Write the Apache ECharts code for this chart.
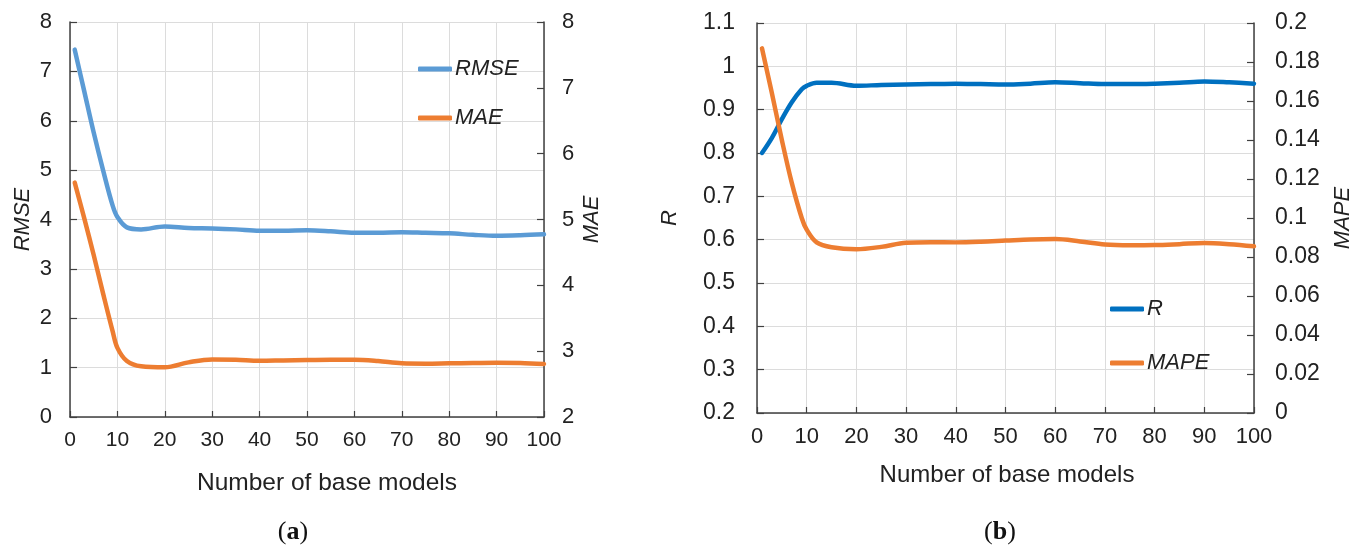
<!DOCTYPE html>
<html>
<head>
<meta charset="utf-8">
<script src="https://cdn.jsdelivr.net/npm/echarts@6/dist/echarts.min.js"></script>
<style>
html,body{margin:0;padding:0;background:#fff;}
#c{width:1366px;height:552px;}
</style>
</head>
<body>
<div id="c"></div>
<script>
// Number of base models (x positions of read points)
var models = [1,3,5,7,9,10,12,15,20,25,30,35,40,45,50,55,60,65,70,75,80,85,90,95,100];
// (a) RMSE (left axis) and MAE (right axis)
var rmse = [7.44,6.60,5.76,4.99,4.28,4.05,3.84,3.80,3.86,3.83,3.82,3.80,3.77,3.77,3.78,3.76,3.73,3.73,3.74,3.73,3.72,3.69,3.67,3.68,3.70];
var mae  = [5.56,5.02,4.46,3.87,3.30,3.05,2.85,2.77,2.755,2.83,2.875,2.87,2.855,2.86,2.865,2.87,2.87,2.85,2.815,2.81,2.815,2.82,2.825,2.82,2.805];
// (b) R (left axis) and MAPE (right axis)
var rVals = [0.800,0.835,0.878,0.917,0.947,0.955,0.962,0.962,0.955,0.957,0.958,0.959,0.960,0.959,0.958,0.960,0.963,0.961,0.959,0.959,0.960,0.962,0.965,0.963,0.960];
var mape  = [0.187,0.164,0.140,0.118,0.100,0.094,0.0875,0.085,0.0840,0.0852,0.0873,0.0876,0.0875,0.0878,0.0884,0.0890,0.0892,0.0880,0.0864,0.0860,0.0861,0.0866,0.0872,0.0866,0.0855];
// Text
var xTitle = 'Number of base models';
var captionA = 'a', captionB = 'b';

function pairs(xs, ys){ return xs.map(function(x,i){ return [x, ys[i]]; }); }

var FONT = "'Liberation Sans', Arial, sans-serif";
var TXT = '#222';
var AXC = '#404040';
var GRIDC = '#dcdcdc';
function fmt(v){ return String(Number(v.toFixed(3))); }

function xAxisCfg(gi, fs){
  return {
    type:'value', gridIndex:gi, min:0, max:100, interval:10,
    axisLine:{show:true, onZero:false, lineStyle:{color:AXC, width:1.5}},
    axisTick:{show:true, inside:true, length:6, lineStyle:{color:AXC, width:1.2}},
    axisLabel:{color:TXT, fontSize:fs, fontFamily:FONT, margin:13},
    splitLine:{show:true, lineStyle:{color:GRIDC, width:1}}
  };
}
function yAxisCfg(gi, pos, min, max, interval, name, gap, fs, margin, split){
  return {
    type:'value', gridIndex:gi, position:pos, min:min, max:max, interval:interval,
    name:name, nameLocation:'middle', nameGap:gap, nameRotate:90,
    nameTextStyle:{fontSize:22, fontStyle:'italic', fontFamily:FONT, color:TXT},
    axisLine:{show:true, onZero:false, lineStyle:{color:AXC, width:1.5}},
    axisTick:{show:true, inside:true, length:7, lineStyle:{color:AXC, width:1.2}},
    axisLabel:{color:TXT, fontSize:fs, fontFamily:FONT, margin:margin, formatter:fmt},
    splitLine:{show:split, lineStyle:{color:GRIDC, width:1}}
  };
}
function lineSeries(name, xi, yi, data, color){
  return {
    name:name, type:'line', xAxisIndex:xi, yAxisIndex:yi, data:data,
    smooth:0.35, showSymbol:false, symbol:'none',
    lineStyle:{color:color, width:4.5, cap:'round', join:'round'},
    itemStyle:{color:color}
  };
}
function legendCfg(name, left, top){
  return {
    data:[name], left:left, top:top, padding:0, orient:'vertical',
    icon:'roundRect', itemWidth:34, itemHeight:5,
    textStyle:{fontSize:22, fontStyle:'italic', fontFamily:FONT, color:TXT, padding:[0,0,0,-2]},
    selectedMode:false
  };
}

var chart = echarts.init(document.getElementById('c'), null, {renderer:'canvas'});
chart.setOption({
  animation:false,
  backgroundColor:'#fff',
  grid:[
    {left:70, right:822, top:22, bottom:135},
    {left:757, right:112, top:23, bottom:139}
  ],
  xAxis:[ xAxisCfg(0, 21), xAxisCfg(1, 22) ],
  yAxis:[
    yAxisCfg(0,'left',0,8,1,'RMSE',36,22,18,true),
    yAxisCfg(0,'right',2,8,1,'MAE',37,22,18,false),
    yAxisCfg(1,'left',0.2,1.1,0.1,'R',76,23,22,true),
    yAxisCfg(1,'right',0,0.2,0.02,'MAPE',78,23,21,false)
  ],
  legend:[
    legendCfg('RMSE',418,58),
    legendCfg('MAE',418,107),
    legendCfg('R',1110,298),
    legendCfg('MAPE',1110,352)
  ],
  series:[
    lineSeries('RMSE',0,0,pairs(models,rmse),'#5B9BD5'),
    lineSeries('MAE',0,1,pairs(models,mae),'#ED7D31'),
    lineSeries('R',1,2,pairs(models,rVals),'#0070C0'),
    lineSeries('MAPE',1,3,pairs(models,mape),'#ED7D31')
  ],
  graphic:[
    {type:'text', x:327, y:483, style:{text:xTitle, align:'center', verticalAlign:'middle', fontSize:24.5, fontFamily:FONT, fill:TXT}},
    {type:'text', x:1007, y:475, style:{text:xTitle, align:'center', verticalAlign:'middle', fontSize:24, fontFamily:FONT, fill:TXT}},
    {type:'text', x:293, y:532, style:{text:'({b|'+captionA+'})', align:'center', verticalAlign:'middle', fontSize:26, fontFamily:"'Liberation Serif', serif", fill:'#111', rich:{b:{fontWeight:'bold', fontSize:26, fontFamily:"'Liberation Serif', serif", fill:'#111'}}}},
    {type:'text', x:1000, y:532, style:{text:'({b|'+captionB+'})', align:'center', verticalAlign:'middle', fontSize:26, fontFamily:"'Liberation Serif', serif", fill:'#111', rich:{b:{fontWeight:'bold', fontSize:26, fontFamily:"'Liberation Serif', serif", fill:'#111'}}}}
  ]
});
</script>
</body>
</html>
